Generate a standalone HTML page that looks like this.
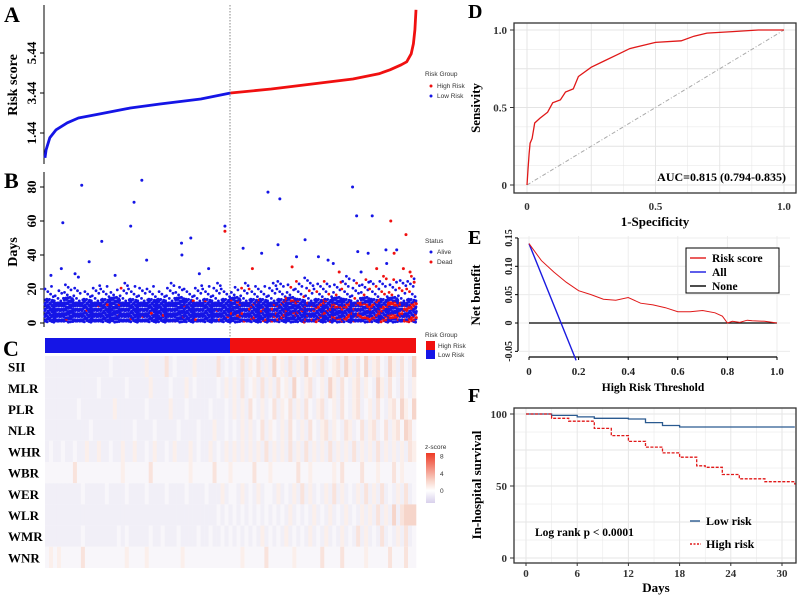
<!DOCTYPE html>
<html><head><meta charset="utf-8"><style>
html,body{margin:0;padding:0;background:#fff;width:800px;height:598px;overflow:hidden}
svg{display:block}
.serif{font-family:"Liberation Serif",serif;font-weight:bold}
.sans{font-family:"Liberation Sans",sans-serif}
</style></head><body>
<svg id="fig" width="800" height="598" viewBox="0 0 800 598" xmlns="http://www.w3.org/2000/svg">
<g id="gA"></g>
<g id="gB"></g>
<g id="gC"></g>
<g id="gD"></g>
<g id="gE"></g>
<g id="gF"></g>
</svg>
<script>
// ---------- data ----------
const riskRank=[0,0.3,1.3,3,6,9,15,23,31,42,50,61,72,83,90,93,96,97.5,98.7,99.3,99.7,100];
const riskScore=[0.2,0.6,1.2,1.6,1.95,2.19,2.4,2.69,2.89,3.14,3.44,3.64,3.89,4.14,4.4,4.6,4.85,5.0,5.4,5.9,6.6,7.6];
const riskTicks=[1.44,3.44,5.44];
const outRank=[9.9,26.1,24,23.1,4.8,4.4,15.3,36.8,39.3,36.9,27.4,11.9,48.5,48.5,60.1,63.3,82.9,84,88.2,84.3,87.1,91.9,94.8,93.2,97.3,94.1,70.1,62.8,53.4,58.4,73.7,67.8,76.3,77.7,66.6,55.9,89.4,96.6,98.4,79.3,1.6,18.9,41.6,44.1,8.1,9,92.1,85.2,99.5];
const outDays=[81,84,71,57,59,32,48,47,50,40,37,36,57,54,77,73,80,63,63,42,41,43,43,60,52,41,49,46,44,41,39,39,37,35,33,32,32,32,30,30,28,28,29,32,29,27,35,30,24];
const outDead=[0,0,0,0,0,0,0,0,0,0,0,0,0,1,0,0,0,0,0,0,0,0,0,1,1,1,0,0,0,0,0,0,0,0,1,1,1,1,1,1,0,0,0,0,0,0,0,0,1];
const bandTop=[14,13,15,13,14,13,14,15,13,14,13,14,14,13,15,14,13,14,13,14,15,13,14,14,13,14,15,14,13,14,14,15,14,13,15,14,14,15,13,14];
const sparseTop=[22,20,24,21,19,23,22,20,25,22,21,23,20,24,22,21,23,22,24,21,22,25,23,22,24,26,23,25,27,24,26,25,28,26,27,25,28,27,26,28];
const deadPct=[1,1,2,1,2,2,1,2,2,1,2,2,2,1,2,3,2,2,3,3,8,9,10,9,11,12,12,13,15,16,18,20,22,24,25,27,30,32,35,38];
const dayTicks=[0,20,40,60,80];
const hmRows=["SII","MLR","PLR","NLR","WHR","WBR","WER","WLR","WMR","WNR"];
const hmData=[
"111111111111111121111111131111412111131111141212141324131523141315231412341531425134215314215",
"111111111111121111112111113111121113121111121313141231413142315213412315314213413215314214213",
"111111112111111113111111121111131112111112111213131421312413241314213412314213412314213425325",
"111111111112111111111121111211111211112111311212131312413213142131421341321431241341241342542",
"121121121131131121131131121311213111312113121313131313141313141314131314131314131314131313143",
"222222242222222222232222224222222222322222422232222242223222222422322222324222242223222423222",
"111111111211111211112111121111211112111121113122131213122131213141312131413121314131412131412",
"111111111111111111111111111111111111111111121212121212121212131212131213121312131314131514555",
"111111111211111111212111112112111211112112112121212121312121312121312131213121413121412131412",
"232322222422222222223222232222222232222222222222232222242222223222222422224222223222224222422"];
const zTicks=[0,4,8];
const rocFpr=[0,0.004,0.008,0.012,0.02,0.03,0.05,0.08,0.1,0.13,0.15,0.18,0.2,0.25,0.3,0.35,0.4,0.45,0.5,0.6,0.65,0.7,0.8,0.9,1];
const rocTpr=[0,0.1,0.2,0.27,0.3,0.4,0.43,0.47,0.53,0.55,0.6,0.62,0.7,0.76,0.8,0.84,0.88,0.9,0.92,0.93,0.96,0.98,0.99,1,1];
const rocTicks=[0,0.5,1.0];
const dcaThr=[0,0.05,0.1,0.15,0.2,0.25,0.3,0.35,0.4,0.45,0.5,0.55,0.6,0.65,0.7,0.75,0.78,0.8,0.82,0.85,0.88,0.9,0.95,1.0];
const dcaRisk=[0.14,0.11,0.09,0.072,0.057,0.05,0.042,0.04,0.045,0.035,0.032,0.027,0.02,0.02,0.022,0.018,0.012,0,0.003,0.001,0.005,0.004,0.003,0];
const dcaAllThr=[0,0.19];
const dcaAll=[0.14,-0.066];
const dcaXTicks=[0,0.2,0.4,0.6,0.8,1.0];
const dcaYTicks=[-0.05,0,0.05,0.10,0.15];
const kmLowT=[0,3,6,8,12,14,16,18,31.5];
const kmLowS=[100,99,98,97,96.5,94,92,91,91];
const kmHighT=[0,3,5,8,10,12,14,16,18,20,21,23,25,27,28,30,31.5];
const kmHighS=[100,97,95,90,85,81,77,73,70,64,63,58,55,55,53,53,51];
const kmXTicks=[0,6,12,18,24,30];
const kmYTicks=[0,50,100];

// ---------- helpers ----------
const NS="http://www.w3.org/2000/svg";
function mk(parent,tag,attrs,text){const e=document.createElementNS(NS,tag);for(const k in attrs)e.setAttribute(k,attrs[k]);if(text!==undefined)e.textContent=text;parent.appendChild(e);return e;}
const gA=document.getElementById('gA'),gB=document.getElementById('gB'),gC=document.getElementById('gC'),gD=document.getElementById('gD'),gE=document.getElementById('gE'),gF=document.getElementById('gF');
const PX0=45,PX1=416;
const rx=r=>PX0+r/100*(PX1-PX0);

// ---------- Panel A ----------
let t=mk(gA,'text',{x:4,y:22,'font-size':22,class:'serif'},'A');

const ay=v=>133-(v-1.44)*20;
mk(gA,'line',{x1:44,y1:5,x2:44,y2:164,stroke:'#000','stroke-width':1});
riskTicks.forEach(v=>{mk(gA,'line',{x1:40,y1:ay(v),x2:44,y2:ay(v),stroke:'#000'});
 const tt=mk(gA,'text',{x:0,y:0,transform:`translate(36,${ay(v)}) rotate(-90)`,'text-anchor':'middle','font-size':13,class:'serif'},v.toFixed(2));
 });
t=mk(gA,'text',{x:0,y:0,transform:'translate(17,85) rotate(-90)','text-anchor':'middle','font-size':14,class:'serif'},'Risk score');

let lowPts=[],highPts=[];
riskRank.forEach((r,i)=>{const p=`${rx(r).toFixed(1)},${ay(riskScore[i]).toFixed(1)}`;if(r<=50)lowPts.push(p);if(r>=50)highPts.push(p);});
let pl=mk(gA,'polyline',{points:lowPts.join(' '),fill:'none',stroke:'#1515e6','stroke-width':2.8,'stroke-linejoin':'round'});

pl=mk(gA,'polyline',{points:highPts.join(' '),fill:'none',stroke:'#f01010','stroke-width':2.8,'stroke-linejoin':'round'});

mk(gA,'line',{x1:230,y1:5,x2:230,y2:338,stroke:'#555','stroke-width':0.7,'stroke-dasharray':'1.5,1.5'});
mk(gA,'text',{x:425,y:76,'font-size':6.5,class:'sans',fill:'#333'},'Risk Group');
mk(gA,'circle',{cx:431,cy:86,r:1.5,fill:'#f01010'});mk(gA,'text',{x:437,y:88,'font-size':6.5,class:'sans',fill:'#333'},'High Risk');
mk(gA,'circle',{cx:431,cy:96,r:1.5,fill:'#1515e6'});mk(gA,'text',{x:437,y:98,'font-size':6.5,class:'sans',fill:'#333'},'Low Risk');

// ---------- Panel B ----------
t=mk(gB,'text',{x:4,y:188,'font-size':22,class:'serif'},'B');

const by=d=>323-d*1.7;
mk(gB,'line',{x1:44,y1:172,x2:44,y2:327,stroke:'#000'});
dayTicks.forEach(v=>{mk(gB,'line',{x1:40,y1:by(v),x2:44,y2:by(v),stroke:'#000'});
 mk(gB,'text',{x:0,y:0,transform:`translate(36,${by(v)}) rotate(-90)`,'text-anchor':'middle','font-size':13,class:'serif'},String(v));});
t=mk(gB,'text',{x:0,y:0,transform:'translate(17,252) rotate(-90)','text-anchor':'middle','font-size':14,class:'serif'},'Days');

const nb=bandTop.length,bw=(PX1-PX0)/nb;
for(let i=0;i<nb;i++){
 let k=0;
 for(let xx=0;xx<bw;xx+=2.2){
  for(let d=0.5;d<bandTop[i];d+=1.25){
   k++;const dead=((i*31+k*17)%100)<deadPct[i];
   const c=mk(gB,'circle',{cx:(PX0+i*bw+xx+((k*7)%3)*0.4).toFixed(1),cy:by(d+((k*13)%5)*0.2).toFixed(1),r:1.5,fill:dead?'#f01010':'#1515e6'});
   
  }
 }
 for(let d=bandTop[i];d<sparseTop[i];d+=1.5){
  k++;const dead=((i*31+k*17)%100)<deadPct[i];
  const c=mk(gB,'circle',{cx:(PX0+i*bw+((k*37)%10)/10*bw).toFixed(1),cy:by(d).toFixed(1),r:1.4,fill:dead?'#f01010':'#1515e6'});
  
 }
}
outRank.forEach((r,i)=>{const c=mk(gB,'circle',{cx:rx(r),cy:by(outDays[i]),r:1.5,fill:outDead[i]?'#f01010':'#1515e6'});
 });
mk(gB,'text',{x:425,y:243,'font-size':6.5,class:'sans',fill:'#333'},'Status');
mk(gB,'circle',{cx:431,cy:252,r:1.5,fill:'#1515e6'});mk(gB,'text',{x:437,y:254,'font-size':6.5,class:'sans',fill:'#333'},'Alive');
mk(gB,'circle',{cx:431,cy:262,r:1.5,fill:'#f01010'});mk(gB,'text',{x:437,y:264,'font-size':6.5,class:'sans',fill:'#333'},'Dead');

// ---------- Panel C ----------
t=mk(gC,'text',{x:3,y:356,'font-size':22,class:'serif'},'C');

mk(gC,'rect',{x:PX0,y:338,width:230-PX0,height:15,fill:'#1515e6'});
mk(gC,'rect',{x:230,y:338,width:PX1-230,height:15,fill:'#f01010'});
const hmCol=['#ebe8f4','#f1eff7','#f8f6fa','#fbefeb','#f9e3dc','#f6d5ca','#f2c3b4','#eeaf9c','#e99a83','#e4846b'];
const HT=356,RH=21.2;
hmRows.forEach((nm,r)=>{
 const s=hmData[r],cw=(PX1-PX0)/s.length;
 for(let j=0;j<s.length;j++){const c=mk(gC,'rect',{x:(PX0+j*cw).toFixed(2),y:HT+r*RH,width:(cw+0.3).toFixed(2),height:RH,fill:hmCol[+s[j]]});
  }
 const l=mk(gC,'text',{x:8,y:HT+r*RH+RH/2+5,'font-size':13,class:'serif'},nm);
 
});
mk(gC,'text',{x:425,y:337,'font-size':6.5,class:'sans',fill:'#333'},'Risk Group');
mk(gC,'rect',{x:426,y:341,width:9,height:9,fill:'#f01010'});mk(gC,'text',{x:438,y:348,'font-size':6.5,class:'sans',fill:'#333'},'High Risk');
mk(gC,'rect',{x:426,y:350,width:9,height:9,fill:'#1515e6'});mk(gC,'text',{x:438,y:357,'font-size':6.5,class:'sans',fill:'#333'},'Low Risk');
mk(gC,'text',{x:425,y:449,'font-size':6.5,class:'sans',fill:'#333'},'z-score');
const zg=mk(gC,'defs',{});const lg=mk(zg,'linearGradient',{id:'zgr',x1:0,y1:0,x2:0,y2:1});
mk(lg,'stop',{offset:'0','stop-color':'#ee3a25'});mk(lg,'stop',{offset:'0.55','stop-color':'#f8d3c8'});mk(lg,'stop',{offset:'0.75','stop-color':'#ffffff'});mk(lg,'stop',{offset:'1','stop-color':'#d8d0ec'});
mk(gC,'rect',{x:426,y:453,width:9,height:50,fill:'url(#zgr)'});
const zy=v=>491-v*4.3;
zTicks.forEach(v=>mk(gC,'text',{x:440,y:zy(v)+2,'font-size':6.5,class:'sans',fill:'#333'},String(v)));

// ---------- Panel D ----------
t=mk(gD,'text',{x:468,y:18,'font-size':20,class:'serif'},'D');

const dx=v=>527+v*257,dy=v=>185-v*155;
for(let v=0;v<=1.001;v+=0.125){mk(gD,'line',{x1:dx(v),y1:23,x2:dx(v),y2:193,stroke:'#e4e4e4','stroke-width':v%0.25<0.01?0.9:0.5});
 mk(gD,'line',{x1:514,y1:dy(v),x2:796,y2:dy(v),stroke:'#e4e4e4','stroke-width':v%0.25<0.01?0.9:0.5});}
mk(gD,'rect',{x:514,y:23,width:282,height:170,fill:'none',stroke:'#333','stroke-width':1.3});
mk(gD,'line',{x1:dx(0),y1:dy(0),x2:dx(1),y2:dy(1),stroke:'#aaa','stroke-width':1,'stroke-dasharray':'4,2,1,2'});
pl=mk(gD,'polyline',{points:rocFpr.map((f,i)=>`${dx(f).toFixed(1)},${dy(rocTpr[i]).toFixed(1)}`).join(' '),fill:'none',stroke:'#e01818','stroke-width':1.3});

rocTicks.forEach(v=>{mk(gD,'line',{x1:510,y1:dy(v),x2:514,y2:dy(v),stroke:'#333'});
 mk(gD,'text',{x:507,y:dy(v)+4,'text-anchor':'end','font-size':11,class:'serif',fill:'#333'},v===0?'0':v.toFixed(1));
 mk(gD,'text',{x:dx(v),y:210,'text-anchor':'middle','font-size':11,class:'serif',fill:'#333'},v===0?'0':v.toFixed(1));});
mk(gD,'text',{x:655,y:226,'text-anchor':'middle','font-size':13,class:'serif'},'1-Specificity');
mk(gD,'text',{x:0,y:0,transform:'translate(480,108) rotate(-90)','text-anchor':'middle','font-size':13,class:'serif'},'Sensivity');
mk(gD,'text',{x:786,y:181,'text-anchor':'end','font-size':12,class:'serif'},'AUC=0.815 (0.794-0.835)');

// ---------- Panel E ----------
t=mk(gE,'text',{x:468,y:244,'font-size':20,class:'serif'},'E');

const ex=v=>529+v*248,ey=v=>323-v*567;
dcaXTicks.forEach(v=>mk(gE,'line',{x1:ex(v),y1:236,x2:ex(v),y2:357,stroke:'#ececec','stroke-width':1}));
dcaYTicks.forEach(v=>mk(gE,'line',{x1:519,y1:ey(v),x2:790,y2:ey(v),stroke:'#ececec','stroke-width':1}));
mk(gE,'line',{x1:518,y1:238,x2:518,y2:351,stroke:'#000','stroke-width':1.2});
mk(gE,'line',{x1:529,y1:357,x2:777,y2:357,stroke:'#000','stroke-width':1.2});
mk(gE,'line',{x1:ex(0),y1:ey(0),x2:ex(1),y2:ey(0),stroke:'#000','stroke-width':1.2});
pl=mk(gE,'polyline',{points:dcaAllThr.map((x,i)=>`${ex(x)},${ey(dcaAll[i])}`).join(' '),fill:'none',stroke:'#1a1ae0','stroke-width':1.4});

pl=mk(gE,'polyline',{points:dcaThr.map((x,i)=>`${ex(x).toFixed(1)},${ey(dcaRisk[i]).toFixed(1)}`).join(' '),fill:'none',stroke:'#e01818','stroke-width':1});

dcaXTicks.forEach(v=>{mk(gE,'line',{x1:ex(v),y1:357,x2:ex(v),y2:360,stroke:'#000'});
 mk(gE,'text',{x:ex(v),y:375,'text-anchor':'middle','font-size':11,class:'serif',fill:'#222'},v===0?'0':v.toFixed(1));});
dcaYTicks.forEach(v=>{mk(gE,'line',{x1:515,y1:ey(v),x2:518,y2:ey(v),stroke:'#000'});
 mk(gE,'text',{x:0,y:0,transform:`translate(512,${ey(v)}) rotate(-90)`,'text-anchor':'middle','font-size':10,class:'serif',fill:'#222'},v===0?'0':v.toFixed(2));});
mk(gE,'text',{x:653,y:391,'text-anchor':'middle','font-size':11.5,class:'serif'},'High Risk Threshold');
mk(gE,'text',{x:0,y:0,transform:'translate(480,295) rotate(-90)','text-anchor':'middle','font-size':13,class:'serif'},'Net benefit');
const lgE=mk(gE,'g',{});
mk(lgE,'rect',{x:686,y:248,width:93,height:45,fill:'#fff',stroke:'#000','stroke-width':1});
[['Risk score','#e01818'],['All','#1a1ae0'],['None','#000']].forEach((e,i)=>{const yy=258+i*14;
 mk(lgE,'line',{x1:690,y1:yy,x2:706,y2:yy,stroke:e[1],'stroke-width':1.4});
 mk(lgE,'text',{x:712,y:yy+4,'font-size':11.5,class:'serif'},e[0]);});

// ---------- Panel F ----------
t=mk(gF,'text',{x:468,y:402,'font-size':20,class:'serif'},'F');

const fx=v=>526+v*(256/30),fy=v=>558-v*1.44;
for(let v=0;v<=31;v+=3)mk(gF,'line',{x1:fx(v),y1:408,x2:fx(v),y2:563,stroke:'#e6e6e6','stroke-width':v%6===0?1:0.5});
for(let v=0;v<=100;v+=12.5)mk(gF,'line',{x1:514,y1:fy(v),x2:796,y2:fy(v),stroke:'#e6e6e6','stroke-width':v%25===0?1:0.5});
mk(gF,'rect',{x:514,y:408,width:282,height:155,fill:'none',stroke:'#333','stroke-width':1.3});
const stepPts=(T,S)=>{let p=[];T.forEach((x,i)=>{if(i>0)p.push(`${fx(x).toFixed(1)},${fy(S[i-1]).toFixed(1)}`);p.push(`${fx(x).toFixed(1)},${fy(S[i]).toFixed(1)}`);});return p.join(' ');};
pl=mk(gF,'polyline',{points:stepPts(kmLowT,kmLowS),fill:'none',stroke:'#2a5a90','stroke-width':1.3});

pl=mk(gF,'polyline',{points:stepPts(kmHighT,kmHighS),fill:'none',stroke:'#e01818','stroke-width':1.3,'stroke-dasharray':'3,1.5'});

kmXTicks.forEach(v=>{mk(gF,'line',{x1:fx(v),y1:563,x2:fx(v),y2:566,stroke:'#333'});
 mk(gF,'text',{x:fx(v),y:577,'text-anchor':'middle','font-size':11,class:'serif',fill:'#333'},String(v));});
kmYTicks.forEach(v=>{mk(gF,'line',{x1:510,y1:fy(v),x2:514,y2:fy(v),stroke:'#333'});
 mk(gF,'text',{x:507,y:fy(v)+4,'text-anchor':'end','font-size':11,class:'serif',fill:'#333'},String(v));});
mk(gF,'text',{x:656,y:592,'text-anchor':'middle','font-size':13,class:'serif'},'Days');
mk(gF,'text',{x:0,y:0,transform:'translate(481,485) rotate(-90)','text-anchor':'middle','font-size':13,class:'serif'},'In-hospital survival');
mk(gF,'text',{x:535,y:536,'font-size':11.5,class:'serif'},'Log rank p < 0.0001');
mk(gF,'line',{x1:690,y1:521,x2:700,y2:521,stroke:'#2a5a90','stroke-width':1.4});
mk(gF,'text',{x:706,y:525,'font-size':12,class:'serif'},'Low risk');
mk(gF,'line',{x1:690,y1:544,x2:701,y2:544,stroke:'#e01818','stroke-width':1.4,'stroke-dasharray':'2,1.5'});
mk(gF,'text',{x:706,y:548,'font-size':12,class:'serif'},'High risk');
</script>
</body></html>
